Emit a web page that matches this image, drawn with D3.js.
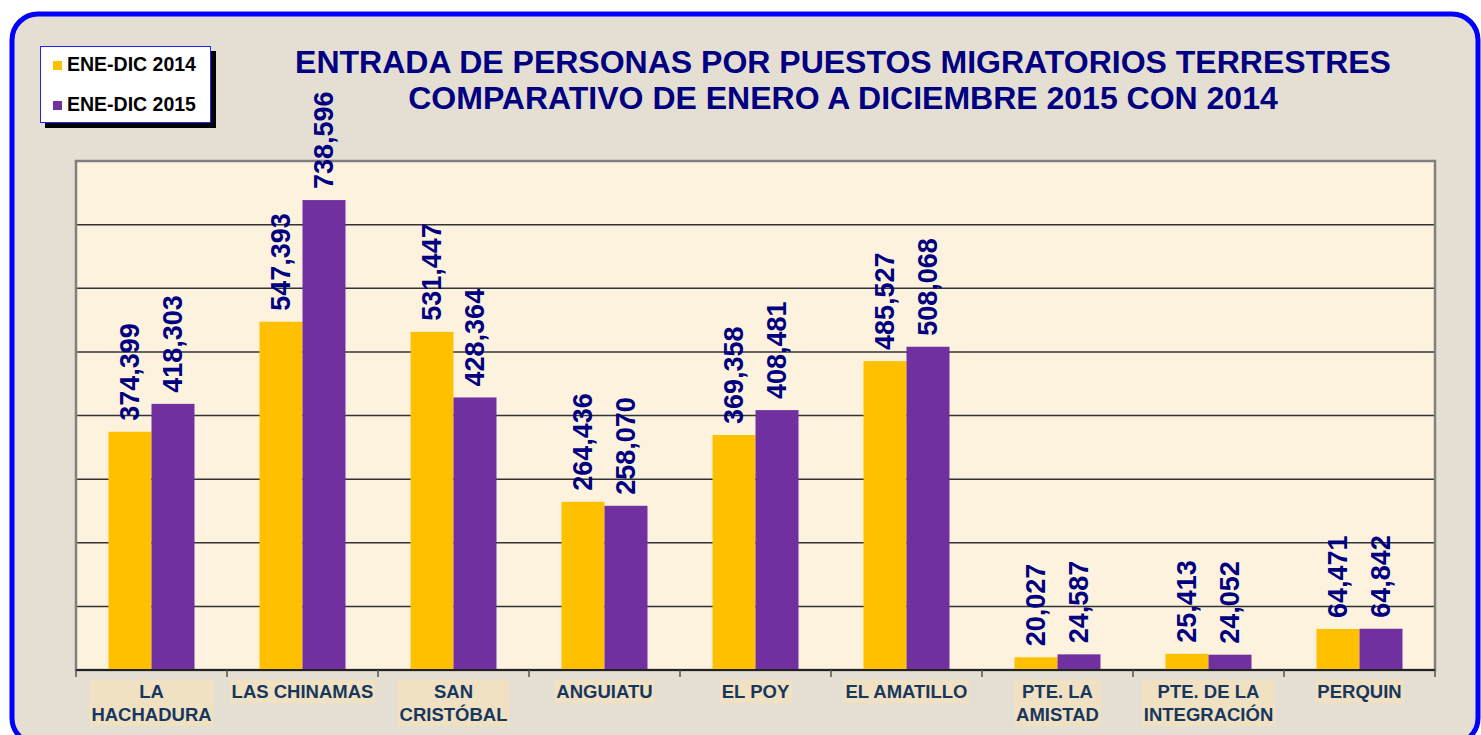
<!DOCTYPE html>
<html><head><meta charset="utf-8">
<script src="https://cdn.jsdelivr.net/npm/d3@7"></script>
<style>
html,body{margin:0;padding:0;background:#fff;}
svg{display:block;font-family:Arial,"Liberation Sans",sans-serif;}
</style></head>
<body><svg id="chart" width="1481" height="735"></svg>
<script>
const categories = [["LA","HACHADURA"],["LAS CHINAMAS"],["SAN","CRISTÓBAL"],["ANGUIATU"],["EL POY"],["EL AMATILLO"],["PTE. LA","AMISTAD"],["PTE. DE LA","INTEGRACIÓN"],["PERQUIN"]];
const seriesNames = ["ENE-DIC 2014","ENE-DIC 2015"];
const values2014 = [374399,547393,531447,264436,369358,485527,20027,25413,64471];
const values2015 = [418303,738596,428364,258070,408481,508068,24587,24052,64842];
const yTicks = [0,100000,200000,300000,400000,500000,600000,700000,800000];
const colors = ["#FFC000","#7030A0"];
const titleLines = ["ENTRADA DE PERSONAS POR PUESTOS MIGRATORIOS TERRESTRES","COMPARATIVO DE ENERO A DICIEMBRE 2015 CON 2014"];

const svg = d3.select("#chart");
const W=1481,H=735;
svg.append("rect").attr("width",W).attr("height",H).attr("fill","#ffffff");
svg.append("rect").attr("x",12).attr("y",14).attr("width",1466).attr("height",730)
  .attr("rx",26).attr("ry",26).attr("fill","#e4ded3").attr("stroke","#0000ff").attr("stroke-width",5);

const m={left:76,right:1435,top:161,bottom:670};
const names = categories.map(c=>c.join(" "));
const x = d3.scaleBand().domain(names).range([m.left,m.right]).padding(0);
const x1 = d3.scaleBand().domain(seriesNames).range([0,x.bandwidth()]).paddingInner(0).paddingOuter(0.756);
const y = d3.scaleLinear().domain([0,800000]).range([m.bottom,m.top]);

svg.append("rect").attr("x",m.left).attr("y",m.top).attr("width",m.right-m.left).attr("height",m.bottom-m.top)
  .attr("fill","#fdf2dd");
svg.append("g").selectAll("line").data(yTicks.slice(1,-1)).join("line")
  .attr("x1",m.left).attr("x2",m.right).attr("y1",d=>y(d)).attr("y2",d=>y(d))
  .attr("stroke","#333").attr("stroke-width",1.5);
svg.append("rect").attr("x",m.left).attr("y",m.top).attr("width",m.right-m.left).attr("height",m.bottom-m.top)
  .attr("fill","none").attr("stroke","#808080").attr("stroke-width",2.5);

const data = names.map((n,i)=>({n,vals:[values2014[i],values2015[i]]}));
const g = svg.append("g");
data.forEach(d=>{
  d.vals.forEach((v,j)=>{
    const bx = x(d.n)+x1(seriesNames[j]);
    g.append("rect").attr("x",bx).attr("y",y(v)).attr("width",x1.bandwidth()).attr("height",y(0)-y(v))
      .attr("fill",colors[j]);
    g.append("text").attr("transform",`translate(${bx+x1.bandwidth()/2},${y(v)-11}) rotate(-90)`)
      .attr("dominant-baseline","central").attr("text-anchor","start")
      .attr("font-size",27).attr("font-weight","bold").attr("fill","#000080")
      .text(d3.format(",")(v));
  });
});

const ax = svg.append("g").attr("transform",`translate(0,${m.bottom})`);
ax.append("line").attr("x1",m.left).attr("x2",m.right).attr("stroke","#222").attr("stroke-width",2);
const bounds = names.map(n=>x(n)).concat([m.right]);
ax.selectAll(".tk").data(bounds).join("line").attr("x1",d=>d).attr("x2",d=>d).attr("y1",0).attr("y2",7)
  .attr("stroke","#555").attr("stroke-width",1.5);

categories.forEach((lines,i)=>{
  const cx = x(names[i])+x.bandwidth()/2;
  const lg = svg.append("g");
  const t = lg.append("text").attr("text-anchor","middle").attr("font-size",18.5).attr("font-weight","bold").attr("fill","#17375E");
  lines.forEach((l,k)=>t.append("tspan").attr("x",cx).attr("y",698+k*23).text(l));
  const bb = t.node().getBBox();
  lg.insert("rect","text").attr("x",bb.x-2).attr("y",bb.y-1).attr("width",bb.width+4).attr("height",bb.height+2)
    .attr("fill","#f1e1c3");
});

const tt = svg.append("text").attr("text-anchor","middle").attr("font-size",32).attr("font-weight","bold").attr("fill","#000080");
titleLines.forEach((l,k)=>tt.append("tspan").attr("x",843).attr("y",73+k*36).text(l));

svg.append("rect").attr("x",45).attr("y",51).attr("width",171).attr("height",77).attr("fill","#000");
svg.append("rect").attr("x",40.5).attr("y",46.5).attr("width",170).attr("height",76).attr("fill","#fff").attr("stroke","#2222ff").attr("stroke-width",1);
seriesNames.forEach((s,i)=>{
  const ly = 71+i*40;
  svg.append("rect").attr("x",53).attr("y",ly-10).attr("width",9).attr("height",9).attr("fill",colors[i]);
  svg.append("text").attr("x",67).attr("y",ly).attr("font-size",19.5).attr("font-weight","bold").attr("fill","#000").text(s);
});
</script></body></html>
